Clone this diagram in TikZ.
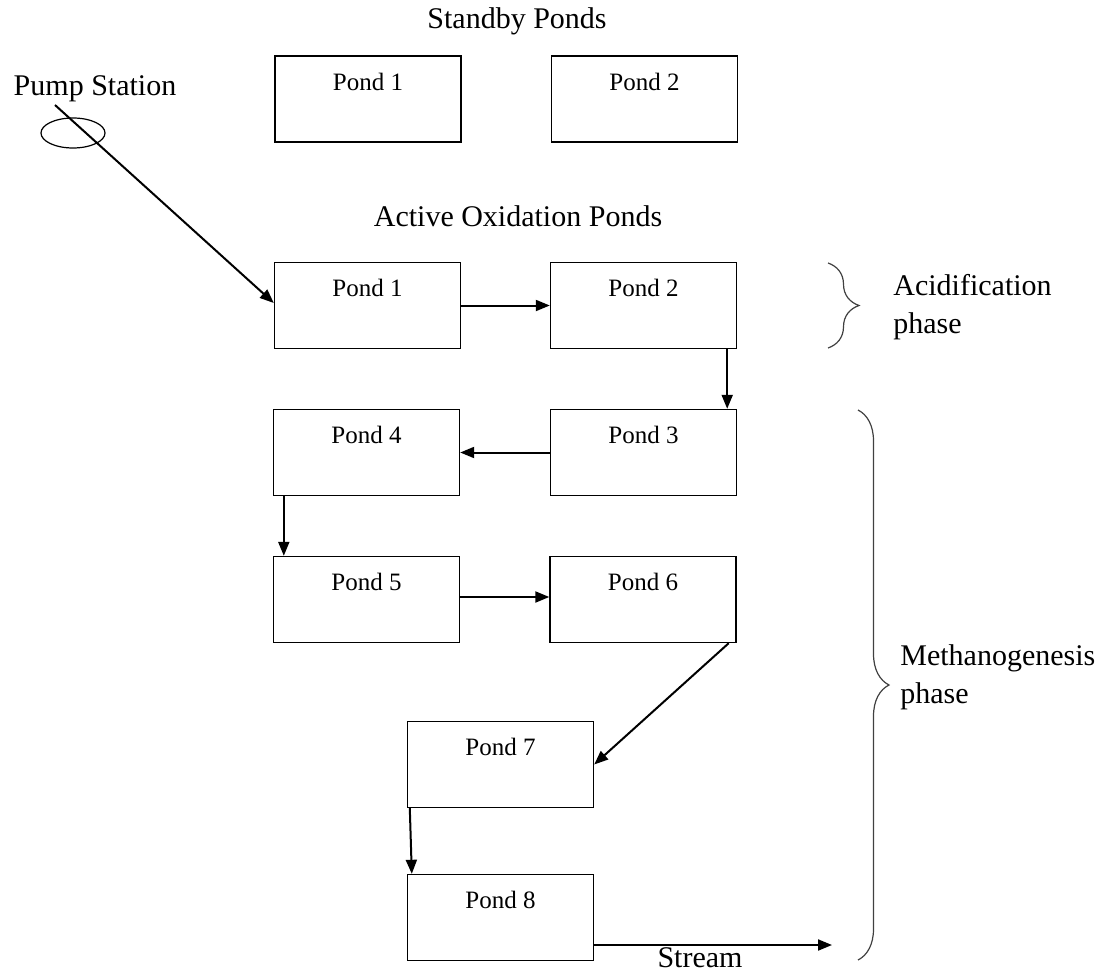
\documentclass[tikz,border=0pt]{standalone}
\usepackage{fontspec}
\setmainfont{Liberation Serif}
\usepackage{tikz}
\usetikzlibrary{arrows.meta,shapes.geometric,decorations.pathreplacing}

\begin{document}
\begin{tikzpicture}[x=.5pt,y=-.5pt,
	pond/.style={draw,line width=.7pt,minimum width=93pt,minimum height=43pt,inner sep=0pt,
		label={[anchor=base,yshift=-17.5pt,font=\fontsize{12.5}{15}\selectfont]north:#1}},
	flow/.style={-{Triangle[length=7pt,width=5.5pt]},line width=1pt},
	heading/.style={anchor=base,font=\fontsize{15}{18}\selectfont},
	phasebrace/.style={decorate,decoration={brace,amplitude=15.5pt},line width=.6pt,black!75},
	phasetext/.style={anchor=west,align=left,inner sep=0pt,font=\fontsize{15}{19}\selectfont}]
	\useasboundingbox (0,0) rectangle (1107,973);

	% titles
	\node[heading] (standby) at (517,29){Standby Ponds};
	\node[heading] (active) at (518,227){Active Oxidation Ponds};
	\node[heading] (pumplabel) at (95,96){Pump Station};

	% standby ponds
	\node[pond=Pond 1] (s1) at (368,99){};
	\node[pond=Pond 2] (s2) at (644.5,99){};

	% active ponds
	\node[pond=Pond 1] (a1) at (367.5,305.5){};
	\node[pond=Pond 2] (a2) at (643.5,305.5){};
	\node[pond=Pond 3] (a3) at (643.5,452.5){};
	\node[pond=Pond 4] (a4) at (366.5,452.5){};
	\node[pond=Pond 5] (a5) at (366.5,599.5){};
	\node[pond=Pond 6] (a6) at (643,599.5){};
	\node[pond=Pond 7] (a7) at (500.5,764.5){};
	\node[pond=Pond 8] (a8) at (500.5,917.5){};

	% pump station
	\node[draw,ellipse,line width=.6pt,minimum width=32pt,minimum height=15pt,inner sep=0pt] (pump) at (73,133){};
	\coordinate (pumpin) at (55,105);
	\draw[flow] (pumpin) -- ([yshift=1.25pt]a1.west);

	% flow between ponds
	\draw[flow] (a1.east) -- (a2.west);
	\draw[flow] ([xshift=-5pt]a2.south east) -- ([xshift=-5pt]a3.north east);
	\draw[flow] (a3.west) -- (a4.east);
	\draw[flow] ([xshift=5.5pt]a4.south west) -- ([xshift=5.5pt]a5.north west);
	\draw[flow] ([yshift=1.25pt]a5.east) -- ([yshift=1.25pt]a6.west);
	\draw[flow] ([xshift=-4pt]a6.south east) -- (a7.east);
	\draw[flow] ([xshift=1.5pt]a7.south west) -- ([xshift=2.5pt]a8.north west);

	% outlet
	\coordinate (sink) at (832,945);
	\draw[flow] ([yshift=-13.75pt]a8.east) -- (sink);
	\node[heading] (stream) at (700,967){Stream};

	% phases
	\draw[phasebrace] (828,263) -- (828,348);
	\node[phasetext] (acid) at (893,307){Acidification\\phase};
	\draw[phasebrace] (858,410) -- (858,960);
	\node[phasetext] (methano) at (900,677){Methanogenesis\\phase};
\end{tikzpicture}
\end{document}
